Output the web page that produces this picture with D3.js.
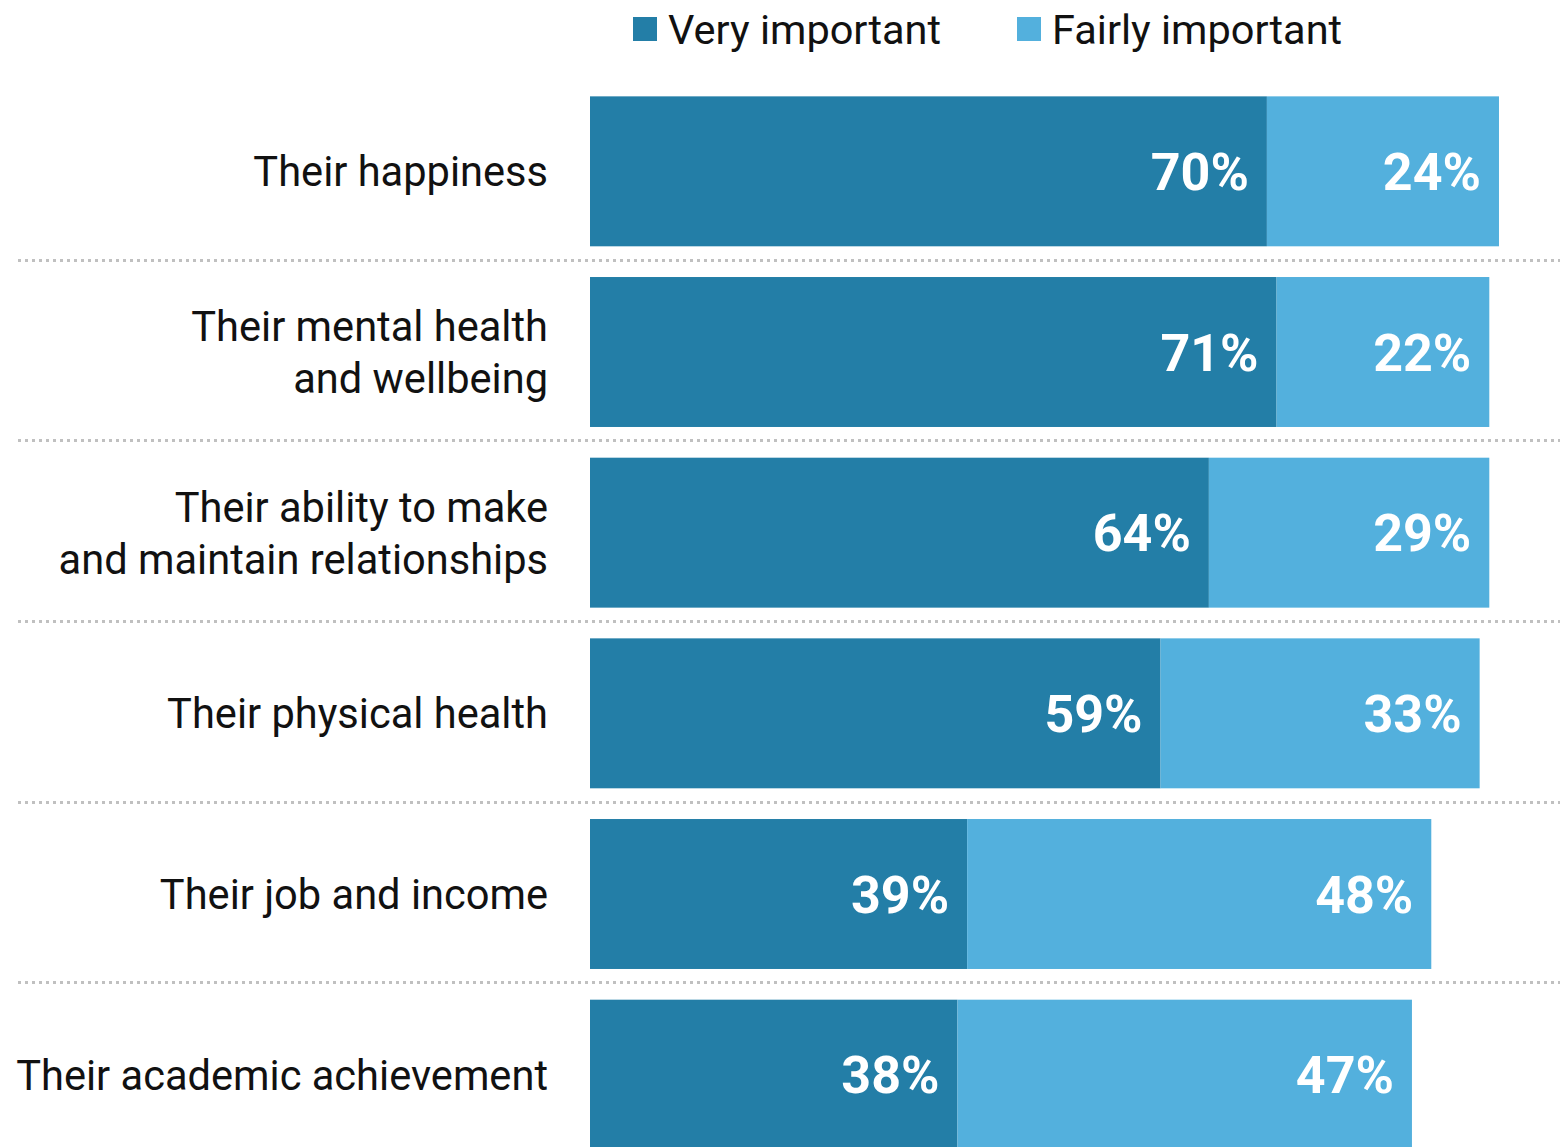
<!DOCTYPE html>
<html>
<head>
<meta charset="utf-8">
<script src="https://cdn.jsdelivr.net/npm/d3@7"></script>
<style>
  html, body { margin: 0; padding: 0; background: #fff; }
  svg { display: block; }
</style>
</head>
<body>
<svg id="chart" width="1567" height="1147"></svg>
<script>
// Survey items, each split into two response levels
const categories = [
  ["Their happiness"],
  ["Their mental health", "and wellbeing"],
  ["Their ability to make", "and maintain relationships"],
  ["Their physical health"],
  ["Their job and income"],
  ["Their academic achievement"]
];
const veryImportant = [70, 71, 64, 59, 39, 38];
const fairlyImportant = [24, 22, 29, 33, 48, 47];
const seriesNames = ["Very important", "Fairly important"];
const seriesColors = ["#237ea7", "#53b0dd"];

const svg = d3.select("#chart");
const fontFamily = "Roboto, 'Noto Sans', sans-serif";

const x = d3.scaleLinear().domain([0, 100]).range([590, 1557]);
const y = d3.scaleBand()
  .domain(d3.range(categories.length))
  .range([81, 1165])
  .paddingInner(0.17)
  .paddingOuter(0.085);

const rows = categories.map((c, i) => ({
  lines: c,
  segs: [
    { s: 0, start: 0, v: veryImportant[i] },
    { s: 1, start: veryImportant[i], v: fairlyImportant[i] }
  ]
}));

// dotted separators between rows
const step = y.step();
for (let i = 1; i < categories.length; i++) {
  const yy = Math.round(y(i) - (step - y.bandwidth()) / 2) - 1.5;
  svg.append("line")
    .attr("x1", 18).attr("x2", 1560)
    .attr("y1", yy).attr("y2", yy)
    .attr("stroke", "#c0c0c0")
    .attr("stroke-width", 3)
    .attr("stroke-dasharray", "3 4");
}

const g = svg.selectAll("g.row").data(rows).join("g")
  .attr("class", "row")
  .attr("transform", (d, i) => `translate(0,${y(i)})`);

g.selectAll("rect").data(d => d.segs).join("rect")
  .attr("x", d => x(d.start))
  .attr("y", 0)
  .attr("width", d => x(d.start + d.v) - x(d.start))
  .attr("height", y.bandwidth())
  .attr("fill", d => seriesColors[d.s]);

g.selectAll("text.val").data(d => d.segs).join("text")
  .attr("class", "val")
  .attr("x", d => x(d.start + d.v) - 18)
  .attr("y", y.bandwidth() / 2)
  .attr("dy", "0.36em")
  .attr("text-anchor", "end")
  .attr("fill", "#fff")
  .attr("font-family", fontFamily)
  .attr("font-weight", 700)
  .attr("font-size", 52)
  .text(d => d.v + "%");

// category labels, right aligned against the bars
g.each(function(d) {
  const n = d.lines.length;
  const lh = 52;
  const t = d3.select(this).append("text")
    .attr("text-anchor", "end")
    .attr("fill", "#111")
    .attr("font-family", fontFamily)
    .attr("font-size", 41.6);
  d.lines.forEach((line, k) => {
    t.append("tspan")
      .attr("x", 548)
      .attr("y", y.bandwidth() / 2 + (k - (n - 1) / 2) * lh)
      .attr("dy", "0.36em")
      .text(line);
  });
});

// legend
const legendX = [633, 1017];
const lg = svg.selectAll("g.legend").data(seriesNames).join("g")
  .attr("class", "legend")
  .attr("transform", (d, i) => `translate(${legendX[i]},17)`);
lg.append("rect")
  .attr("width", 24).attr("height", 24)
  .attr("fill", (d, i) => seriesColors[i]);
lg.append("text")
  .attr("x", 35).attr("y", 12)
  .attr("dy", "0.36em")
  .attr("fill", "#111")
  .attr("font-family", fontFamily)
  .attr("font-size", 41.5)
  .text(d => d);
</script>
</body>
</html>
